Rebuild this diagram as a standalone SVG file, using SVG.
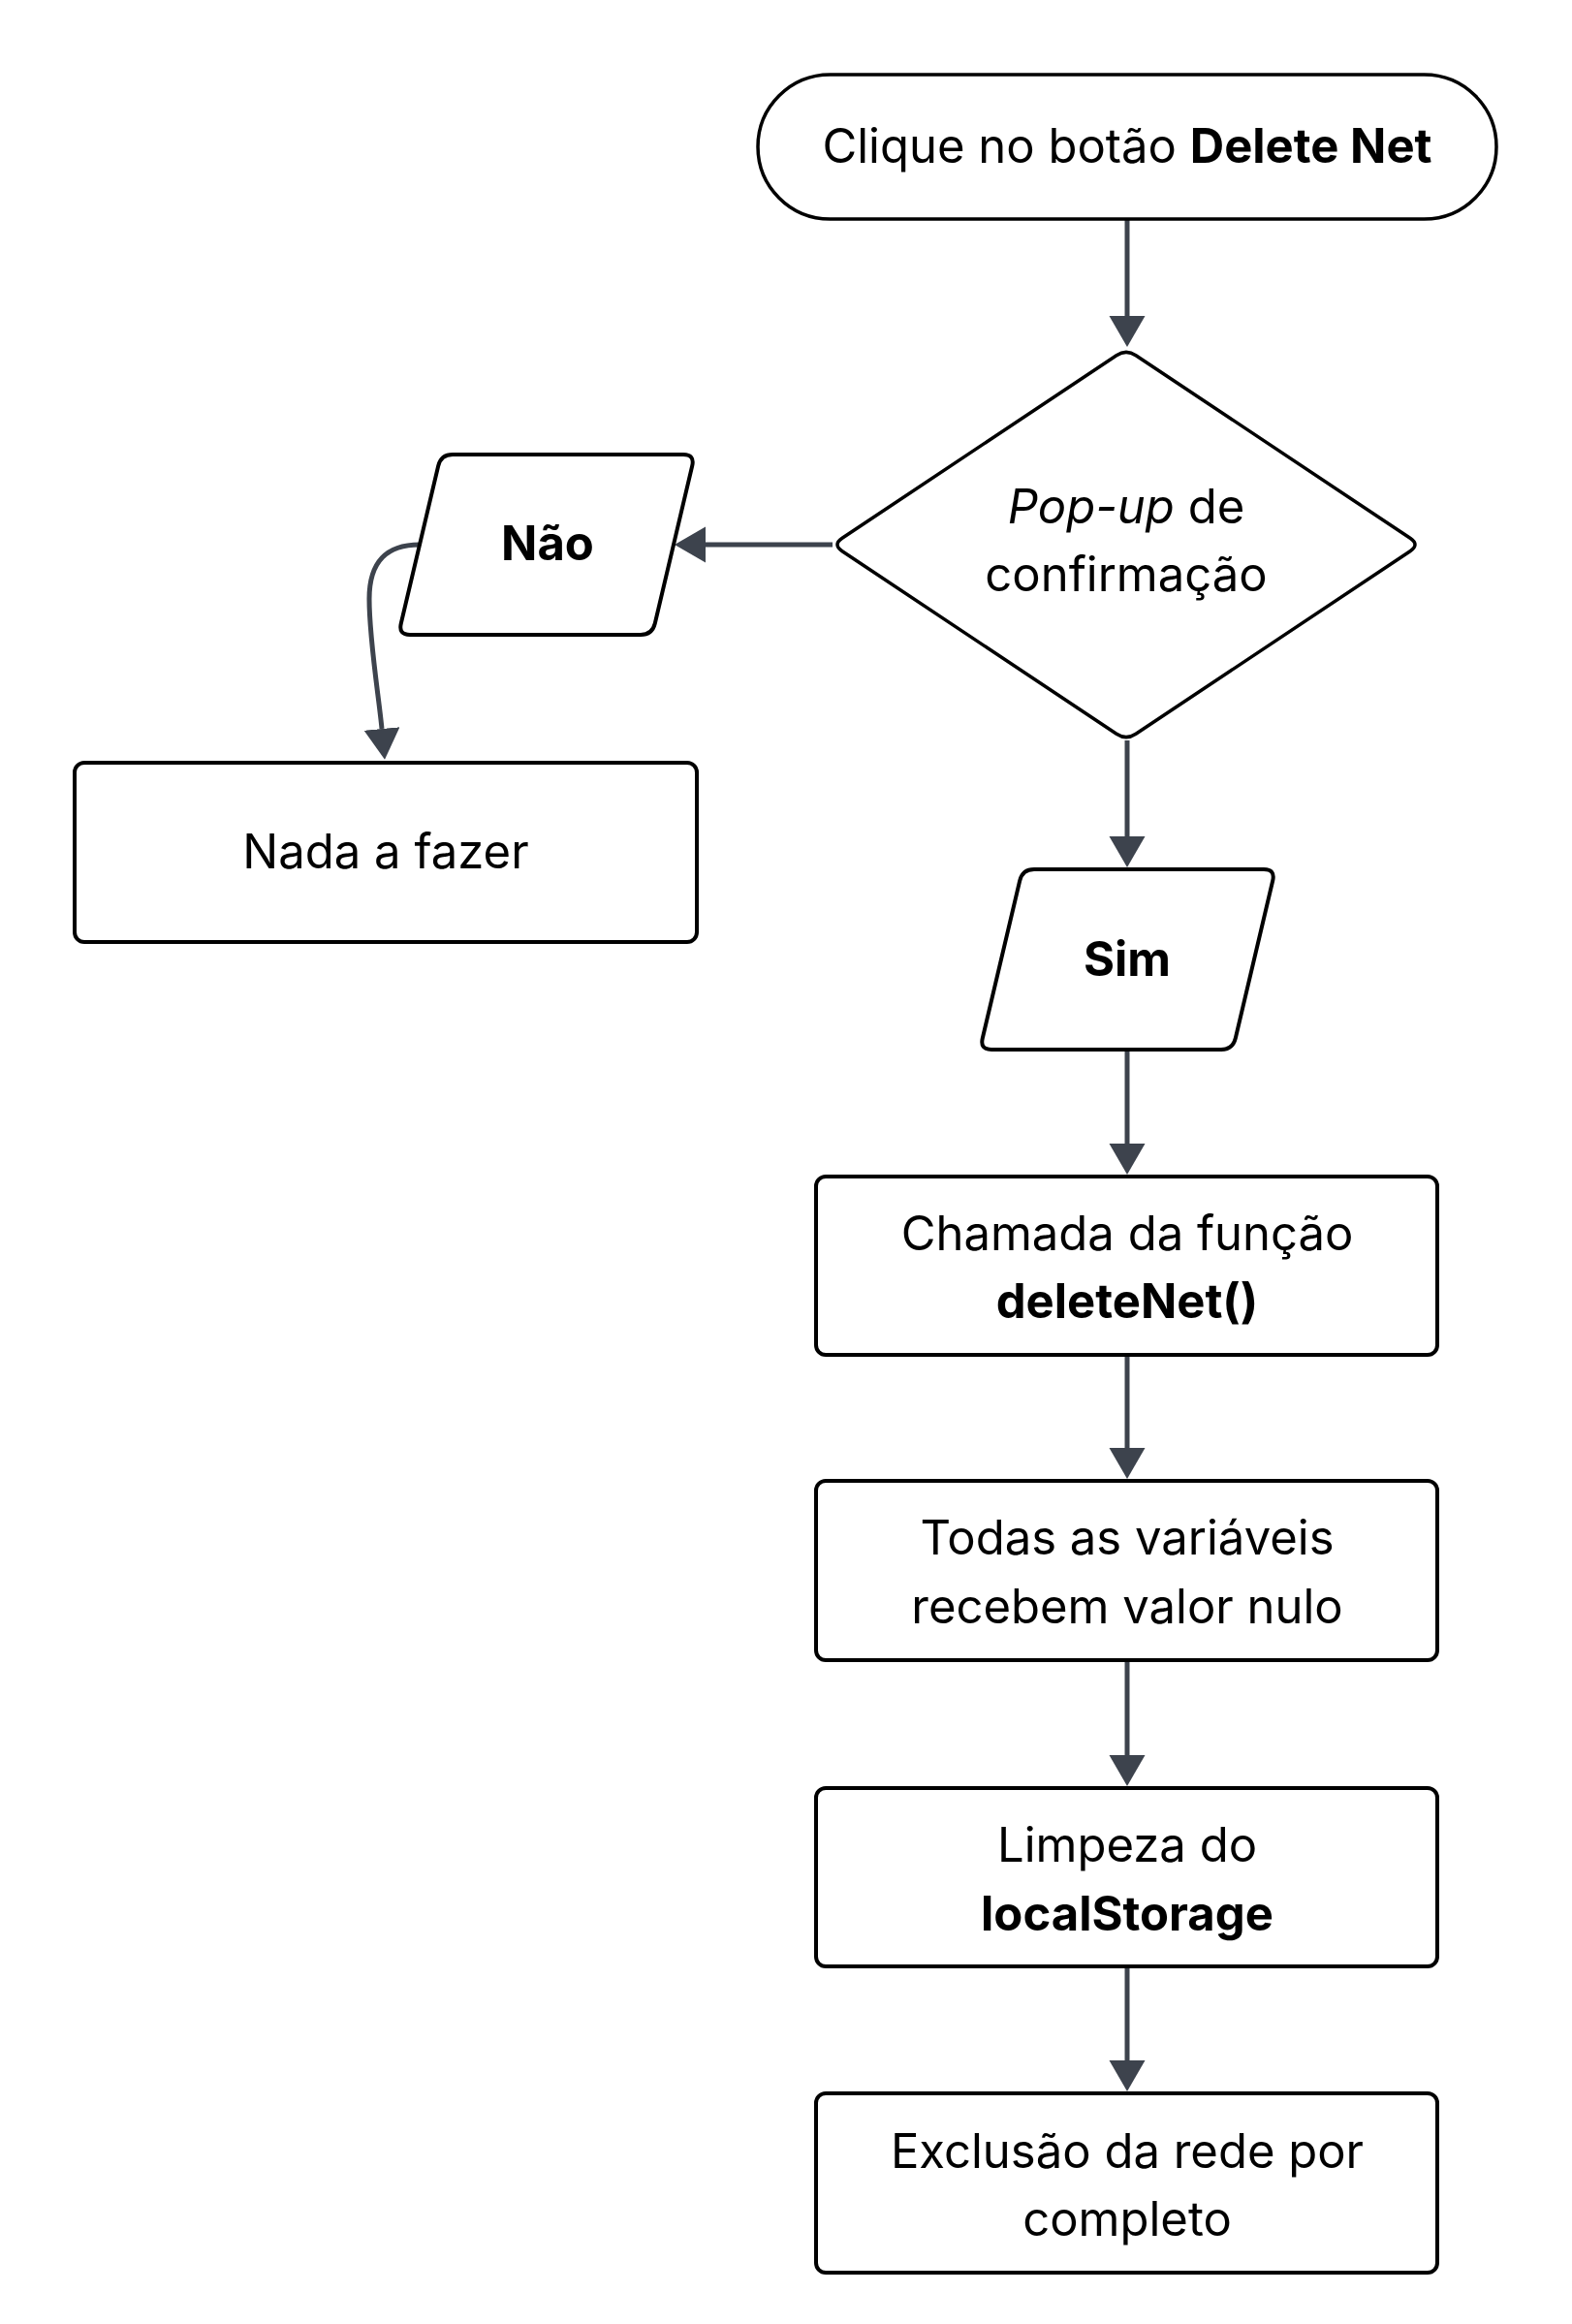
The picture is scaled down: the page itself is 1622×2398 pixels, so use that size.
<svg xmlns="http://www.w3.org/2000/svg" width="1622" height="2398" viewBox="0 0 1622 2398">
  <style>
    .node { fill: #ffffff; stroke: #000000; stroke-width: 4; stroke-linejoin: round; }
    .thin { stroke-width: 3.5; }
    .conn { fill: none; stroke: #3d434d; stroke-width: 5; }
    .t { font-family: Inter, "Liberation Sans", sans-serif; font-size: 49px; fill: #000000; text-anchor: middle; }
    .b { font-weight: 700; }
    .i { font-style: italic; }
  </style>
  <defs>
    <marker id="arrow" markerUnits="userSpaceOnUse" markerWidth="34" markerHeight="38" refX="0" refY="18.5" orient="auto" viewBox="0 0 34 38">
      <path d="M0,0 L32,18.5 L0,37 Z" fill="#3d434d"/>
    </marker>
  </defs>
  <rect width="1622" height="2398" fill="#ffffff"/>

  <g id="connectors">
    <path class="conn" d="M1163,226 L1163,326" marker-end="url(#arrow)"/>
    <path class="conn" d="M859,562 L728,562" marker-end="url(#arrow)"/>
    <path class="conn" d="M433,562 C400,562 381,578 381,618 C381,660 391,720 394,752" marker-end="url(#arrow)"/>
    <path class="conn" d="M1163,764 L1163,863" marker-end="url(#arrow)"/>
    <path class="conn" d="M1163,1083 L1163,1180" marker-end="url(#arrow)"/>
    <path class="conn" d="M1163,1398 L1163,1494" marker-end="url(#arrow)"/>
    <path class="conn" d="M1163,1713 L1163,1811" marker-end="url(#arrow)"/>
    <path class="conn" d="M1163,2029 L1163,2126" marker-end="url(#arrow)"/>
  </g>

  <g id="start">
    <rect class="node thin" x="782" y="77" width="762" height="149" rx="74.5" ry="74.5"/>
    <text class="t" x="1163" y="168">Clique no botão <tspan class="b">Delete Net</tspan></text>
  </g>

  <g id="decision">
    <path class="node thin" d="M1152,366.7 Q1162,360 1172,366.7 L1455,555.3 Q1465,562 1455,568.7 L1172,757.3 Q1162,764 1152,757.3 L869,568.7 Q859,562 869,555.3 Z"/>
    <text class="t" x="1162" y="540"><tspan class="i">Pop-up</tspan> de</text>
    <text class="t" x="1162" y="610">confirmação</text>
  </g>

  <g id="nao">
    <path class="node" d="M467,469 L705,469 Q717,469 714.2,480.7 L675.8,643.3 Q673,655 661,655 L423,655 Q411,655 413.8,643.3 L452.2,480.7 Q455,469 467,469 Z"/>
    <text class="t b" x="565" y="578">Não</text>
  </g>

  <g id="nada">
    <rect class="node" x="77" y="787" width="642" height="185" rx="10" ry="10"/>
    <text class="t" x="398" y="896">Nada a fazer</text>
  </g>

  <g id="sim">
    <path class="node" d="M1067,897 L1304,897 Q1316,897 1313.2,908.7 L1274.8,1071.3 Q1272,1083 1260,1083 L1023,1083 Q1011,1083 1013.8,1071.3 L1052.2,908.7 Q1055,897 1067,897 Z"/>
    <text class="t b" x="1163" y="1007">Sim</text>
  </g>

  <g id="chamada">
    <rect class="node" x="842" y="1214" width="641" height="184" rx="10" ry="10"/>
    <text class="t" x="1163" y="1290">Chamada da função</text>
    <text class="t b" x="1163" y="1360">deleteNet()</text>
  </g>

  <g id="todas">
    <rect class="node" x="842" y="1528" width="641" height="185" rx="10" ry="10"/>
    <text class="t" x="1163" y="1604">Todas as variáveis</text>
    <text class="t" x="1163" y="1675">recebem valor nulo</text>
  </g>

  <g id="limpeza">
    <rect class="node" x="842" y="1845" width="641" height="184" rx="10" ry="10"/>
    <text class="t" x="1163" y="1921">Limpeza do</text>
    <text class="t b" x="1163" y="1992">localStorage</text>
  </g>

  <g id="exclusao">
    <rect class="node" x="842" y="2160" width="641" height="185" rx="10" ry="10"/>
    <text class="t" x="1163" y="2237">Exclusão da rede por</text>
    <text class="t" x="1163" y="2307">completo</text>
  </g>
</svg>
